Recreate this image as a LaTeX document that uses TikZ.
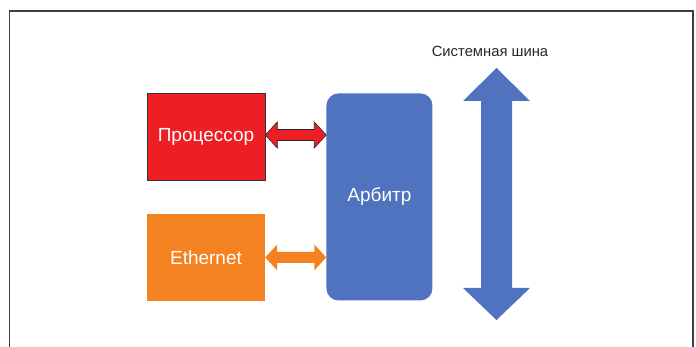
\documentclass[tikz,border=0pt]{standalone}
\usepackage{fontspec}
\setmainfont{Liberation Sans}
\usepackage{xcolor}
\definecolor{cpured}{RGB}{237,30,36}
\definecolor{ethorange}{RGB}{245,130,32}
\definecolor{arbblue}{RGB}{79,115,190}
\definecolor{slate}{RGB}{64,64,64}
\usetikzlibrary{calc,positioning}

%% wide two-headed arrow between two points (left tip, right tip)
\newcommand\widearrow[3]{%
  \draw[#1] (#2) -- ++(12,-13) -- ++(0,7.5) -- ($(#3)+(-12,-5.5)$)
    -- ++(0,-7.5) -- (#3) -- ++(-12,13) -- ++(0,-7.5)
    -- ($(#2)+(12,5.5)$) -- ++(0,7.5) -- cycle;}

\begin{document}
\begin{tikzpicture}[x=1pt,y=-1pt,
  unitbox/.style={minimum width=118pt, minimum height=87pt, inner sep=0pt,
                  text=white, font=\fontsize{19}{22}\selectfont},
  cpuarrow/.style={fill=cpured, draw=black!85, line width=0.6pt, line join=miter},
  etharrow/.style={fill=ethorange, draw=none},
  framestyle/.style={draw=slate, line width=1.8pt}]
\useasboundingbox (0,0) rectangle (696,347);

% outer frame
\draw[framestyle] (9.5,348) |- (693,11) -- (693,348);

% blocks
\node[unitbox, fill=cpured, draw=black!80, line width=0.5pt] (cpu) at (206,137) {Процессор};
\node[unitbox, fill=ethorange, below=33pt of cpu] (eth) {Ethernet};
\node[fill=arbblue, rounded corners=12pt, minimum width=106pt, minimum height=207pt,
      inner sep=0pt, text=white, font=\fontsize{19}{22}\selectfont,
      right=61pt of cpu.north east, anchor=north west] (arb) {Арбитр};

% links to the arbiter
\widearrow{cpuarrow}{$(cpu.east)+(0,-2)$}{$(cpu.east -| arb.west)+(0,-2)$}
\widearrow{etharrow}{eth.east}{eth.east -| arb.west}

% system bus
\coordinate (bustop) at (496.5,68);
\coordinate (busbot) at (496.5,320);
\fill[arbblue] (bustop) -- ++(33.5,33) -- ++(-18,0) -- ($(busbot)+(15.5,-32)$)
  -- ++(18,0) -- (busbot) -- ++(-33.5,-32) -- ++(18,0)
  -- ($(bustop)+(-15.5,33)$) -- ++(-18,0) -- cycle;
\node[font=\fontsize{14.8}{17}\selectfont, text=black!85] (buslabel) at (490,51) {Системная шина};
\end{tikzpicture}
\end{document}
